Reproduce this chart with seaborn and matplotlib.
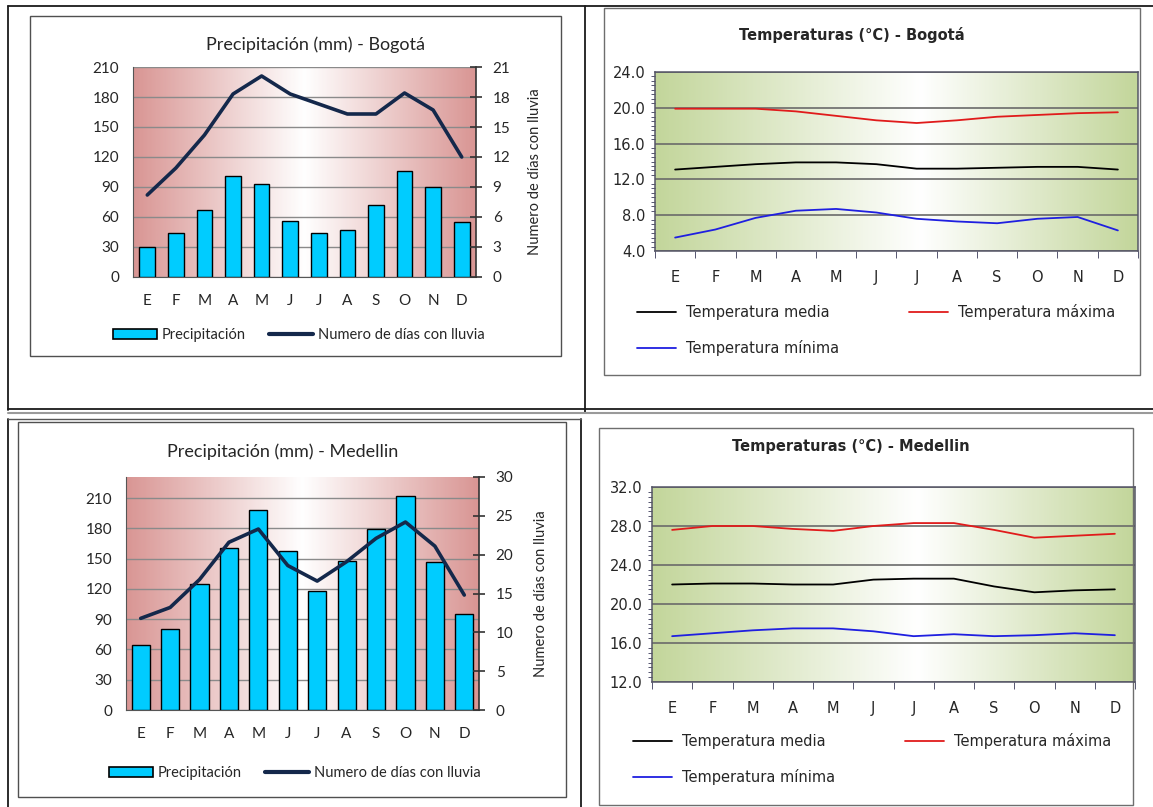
import seaborn as sns
import matplotlib.pyplot as plt
import numpy as np
from matplotlib.colors import LinearSegmentedColormap
from matplotlib.lines import Line2D
from matplotlib.patches import Patch, Rectangle
from matplotlib.ticker import MultipleLocator, FormatStrFormatter

sns.set_style('white')
plt.rcParams['font.family'] = ['Lato', 'DejaVu Sans']

meses = ['E', 'F', 'M', 'A', 'M', 'J', 'J', 'A', 'S', 'O', 'N', 'D']

# Bogota
bog_precip = [30, 44, 67, 101, 93, 56, 44, 47, 72, 106, 90, 55]
bog_dias = [8.2, 10.9, 14.2, 18.3, 20.1, 18.3, 17.3, 16.3, 16.3, 18.4, 16.7, 12.0]
bog_tmax = [19.9, 19.9, 19.9, 19.6, 19.1, 18.6, 18.3, 18.6, 19.0, 19.2, 19.4, 19.5]
bog_tmed = [13.1, 13.4, 13.7, 13.9, 13.9, 13.7, 13.2, 13.2, 13.3, 13.4, 13.4, 13.1]
bog_tmin = [5.5, 6.4, 7.7, 8.5, 8.7, 8.3, 7.6, 7.3, 7.1, 7.6, 7.8, 6.3]

# Medellin
med_precip = [64, 80, 125, 161, 198, 158, 118, 148, 179, 212, 147, 95]
med_dias = [11.8, 13.2, 16.8, 21.6, 23.3, 18.6, 16.6, 19.1, 22.1, 24.2, 21.1, 14.8]
med_tmax = [27.6, 28.0, 28.0, 27.7, 27.5, 28.0, 28.3, 28.3, 27.6, 26.8, 27.0, 27.2]
med_tmed = [22.0, 22.1, 22.1, 22.0, 22.0, 22.5, 22.6, 22.6, 21.8, 21.2, 21.4, 21.5]
med_tmin = [16.7, 17.0, 17.3, 17.5, 17.5, 17.2, 16.7, 16.9, 16.7, 16.8, 17.0, 16.8]

W, H = 1153, 807
fig = plt.figure(figsize=(W / 100, H / 100), dpi=100)
fig.patch.set_facecolor('white')


def rect(l, t, r, b):
    return [l / W, 1 - b / H, (r - l) / W, (b - t) / H]


def fx(x):
    return x / W


def fy(y):
    return 1 - y / H


def line(x0, y0, x1, y1, c='#1a1a1a', lw=1.3):
    fig.add_artist(Line2D([fx(x0), fx(x1)], [fy(y0), fy(y1)], color=c, lw=lw))


def box(l, t, r, b, c='#505050', lw=1.0):
    fig.add_artist(Rectangle((fx(l), fy(b)), (r - l) / W, (b - t) / H,
                             fill=False, ec=c, lw=lw))


def gradient_bg(r, edge, center):
    bg = fig.add_axes(r, zorder=0)
    cmap = LinearSegmentedColormap.from_list('g', [edge, 'white', edge])
    xs = np.linspace(0, 1, 300)
    # white at `center`, edges at 0 and 1
    vals = np.where(xs < center, 0.5 * xs / center, 0.5 + 0.5 * (xs - center) / (1 - center))
    bg.imshow(vals[None, :], aspect='auto', cmap=cmap, extent=[0, 1, 0, 1])
    bg.set_axis_off()
    return bg


# page frame lines
line(8, 6, 1153, 6)
line(8, 6, 8, 410)
line(585, 6, 585, 413)
line(8, 409, 1153, 409)
line(8, 413, 1153, 413, c='#9a9a9a', lw=1.5)
line(8, 419, 8, 807)
line(581, 419, 581, 807)
line(8, 419, 581, 419, c='#555555', lw=1.0)

# chart boxes
box(30, 16, 561, 356)
box(604, 8, 1140, 375, c='#6e6e6e')
box(18, 422, 566, 797)
box(599, 428, 1133, 805, c='#6e6e6e')

idx = np.arange(12)
pink = '#d99694'
green = '#c3d69b'
bar_c = '#00ccff'
navy = '#14284b'


def precip_chart(r, precip, dias, lmax, rmax, rstep, title, title_xy, legend_xy, ylab_x, barw):
    gradient_bg(r, pink, 0.5)
    ax = fig.add_axes(r, zorder=1)
    ax.set_facecolor('none')
    sns.barplot(x=idx, y=precip, ax=ax, color=bar_c, edgecolor='black',
                linewidth=1.0, width=barw, saturation=1, zorder=3)
    ax.set_ylim(0, lmax)
    ax.set_xlim(-0.5, 11.5)
    ax.set_yticks(np.arange(0, 211, 30))
    ax.yaxis.grid(True, color='#8a8a8a', lw=1.0, zorder=0)
    ax.set_axisbelow(True)
    ax.set_xticks(idx)
    ax.set_xticklabels(meses, fontsize=11)
    ax.tick_params(axis='y', labelsize=11, length=0, pad=10)
    ax.tick_params(axis='x', length=0, pad=12)
    for s in ['top', 'right']:
        ax.spines[s].set_visible(False)
    ax.spines['left'].set_color('#555555')
    ax.spines['bottom'].set_color('#555555')
    ax.set_ylabel('')

    ax2 = ax.twinx()
    ax2.set_zorder(2)
    sns.lineplot(x=idx, y=dias, ax=ax2, color=navy, lw=2.6)
    ax2.set_ylim(0, rmax)
    ax2.set_yticks(np.arange(0, rmax + 0.1, rstep))
    ax2.tick_params(axis='y', labelsize=11, direction='inout', length=8, width=1.2, color='#333333', pad=8)
    for s in ['top', 'left', 'bottom']:
        ax2.spines[s].set_visible(False)
    ax2.spines['right'].set_color('#333333')
    ax2.spines['right'].set_linewidth(1.2)
    ax2.set_ylabel('')

    fig.text(fx(title_xy[0]), fy(title_xy[1]), title, ha='center', va='center', fontsize=13)
    fig.text(fx(ylab_x), (r[1] + r[3] / 2), 'Numero de días con lluvia', rotation=90,
             ha='center', va='center', fontsize=10.5)
    handles = [Patch(facecolor=bar_c, edgecolor='black', lw=1.2),
               Line2D([], [], color=navy, lw=3)]
    ax.legend(handles, ['Precipitación', 'Numero de días con lluvia'], ncol=2,
              loc='center left', bbox_to_anchor=(fx(legend_xy[0]), fy(legend_xy[1])),
              bbox_transform=fig.transFigure, frameon=False, fontsize=10.5,
              borderpad=0, borderaxespad=0, handlelength=3.0, handleheight=0.75,
              handletextpad=0.35, columnspacing=1.6)


def temp_chart(r, tmed, tmax, tmin, ylo, yhi, title, title_xy, legend_xy):
    gradient_bg(r, green, 0.55)
    ax = fig.add_axes(r, zorder=1)
    ax.set_facecolor('none')
    sns.lineplot(x=idx, y=tmed, ax=ax, color='black', lw=1.3)
    sns.lineplot(x=idx, y=tmax, ax=ax, color='#e01b1b', lw=1.3)
    sns.lineplot(x=idx, y=tmin, ax=ax, color='#1f1fe0', lw=1.3)
    ax.set_xlim(-0.5, 11.5)
    ax.set_ylim(ylo, yhi)
    ax.yaxis.set_major_locator(MultipleLocator(4))
    ax.yaxis.set_minor_locator(MultipleLocator(0.5))
    ax.yaxis.set_major_formatter(FormatStrFormatter('%.1f'))
    ax.yaxis.grid(True, which='major', color='#6a6a6a', lw=1.2)
    ax.set_xticks(idx)
    ax.set_xticks(np.arange(-0.5, 12, 1), minor=True)
    ax.set_xticklabels(meses, fontsize=10.5, family='DejaVu Sans')
    for lab in ax.get_yticklabels():
        lab.set_family('DejaVu Sans')
    ax.tick_params(axis='y', which='major', labelsize=10.5, direction='out', length=5, color='#3a3a5a', pad=2)
    ax.tick_params(axis='y', which='minor', direction='out', length=3, color='#3a3a5a', left=True)
    ax.tick_params(axis='x', which='major', length=0, pad=14)
    ax.tick_params(axis='x', which='minor', direction='out', length=5, color='#3a3a5a', bottom=True)
    for s in ax.spines.values():
        s.set_color('#555566')
        s.set_linewidth(1.1)
    ax.set_ylabel('')
    fig.text(fx(title_xy[0]), fy(title_xy[1]), title, ha='center', va='center',
             fontsize=10.5, fontweight='bold', family='DejaVu Sans')
    handles = [Line2D([], [], color='black', lw=1.3),
               Line2D([], [], color='#1f1fe0', lw=1.3),
               Line2D([], [], color='#e01b1b', lw=1.3)]
    ax.legend(handles, ['Temperatura media', 'Temperatura mínima', 'Temperatura máxima'],
              ncol=2, loc='upper left', bbox_to_anchor=(fx(legend_xy[0]), fy(legend_xy[1])),
              bbox_transform=fig.transFigure, frameon=False,
              prop={'family': 'DejaVu Sans', 'size': 10.5},
              borderpad=0, borderaxespad=0, handlelength=2.7, handletextpad=0.65,
              columnspacing=4.8, labelspacing=1.4)


precip_chart(rect(133, 67, 476, 277), bog_precip, bog_dias, 210, 21, 3,
             'Precipitación (mm) - Bogotá', (315, 45), (113, 335), 535, 0.55)
precip_chart(rect(126, 477, 479, 710), med_precip, med_dias, 231, 30, 5,
             'Precipitación (mm) - Medellin', (283, 452), (109, 773), 541, 0.62)
temp_chart(rect(655, 72, 1138, 251), bog_tmed, bog_tmax, bog_tmin, 4, 24,
           'Temperaturas (°C) - Bogotá', (852, 35), (637, 304))
temp_chart(rect(652, 487, 1135, 682), med_tmed, med_tmax, med_tmin, 12, 32,
           'Temperaturas (°C) - Medellin', (851, 447), (633, 733))

fig.savefig('out.png', dpi=100)
